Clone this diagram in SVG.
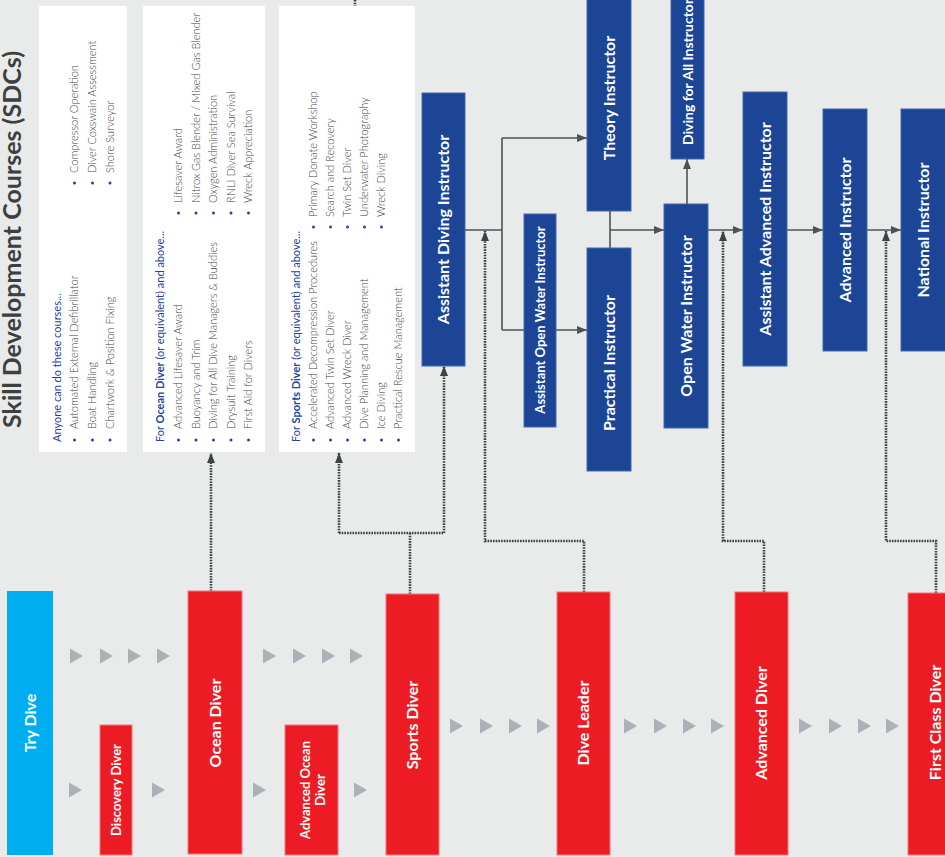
<svg xmlns="http://www.w3.org/2000/svg" width="945" height="857" viewBox="0 0 945 857">
<style>
.bg{fill:#e9ebea}
.panel{fill:#ffffff}
.blue{fill:#1d4596;stroke:#4468b0;stroke-width:1}
.red{fill:#ed1c24;stroke:#f2777b;stroke-width:1}
.cyan{fill:#00aeef}
.lbl{font-family:Lato,"Open Sans",sans-serif;font-weight:700;fill:#ffffff;text-anchor:middle}
.f16{font-size:16px}
.f13{font-size:13px}
.title{font-family:Lato,"Open Sans",sans-serif;font-weight:700;font-size:25px;fill:#3d3f40}
.item{font-family:Lato,"Open Sans",sans-serif;font-weight:300;font-size:11px;fill:#3f4143}
.hdr{font-family:Lato,"Open Sans",sans-serif;font-weight:400;font-size:11px;fill:#23449a}
.hb{font-weight:700}
.bul{fill:#23449a}
.conn{fill:none;stroke:#4b5358;stroke-width:1.6}
.dot{fill:none;stroke:#3c4247;stroke-width:2.6;stroke-dasharray:1.6 1.1}
.chev{fill:#aab1b7}
</style>
<defs>
<marker id="ah" markerWidth="10" markerHeight="8" refX="10" refY="4" orient="auto" markerUnits="userSpaceOnUse"><path d="M0,0 L10,4 L0,8 Z" fill="#4b5358"/></marker>
<marker id="ahd" markerWidth="10" markerHeight="8" refX="10" refY="4" orient="auto" markerUnits="userSpaceOnUse"><path d="M0,0 L10,4 L0,8 Z" fill="#3c4247"/></marker>
<path id="tri" d="M0,-7.5 L13,0 L0,7.5 Z"/>
</defs>
<rect class="bg" x="0" y="0" width="945" height="857"/>

<text class="title" transform="rotate(-90)" x="-428" y="20.5">Skill Development Courses (SDCs)</text>

<g id="connectors">
<path class="conn" d="M465,230 H502"/>
<path class="conn" d="M502,138 V330"/>
<path class="conn" d="M502,138 H587" marker-end="url(#ah)"/>
<path class="conn" d="M502,330 H587" marker-end="url(#ah)"/>
<path class="conn" d="M610,211 V248"/>
<path class="conn" d="M610,230 H664" marker-end="url(#ah)"/>
<path class="conn" d="M687,204 V159" marker-end="url(#ah)"/>
<path class="conn" d="M708,230 H743" marker-end="url(#ah)"/>
<path class="conn" d="M787,230 H823" marker-end="url(#ah)"/>
<path class="conn" d="M867,230 H901" marker-end="url(#ah)"/>
<path class="dot" d="M211,591 V453" marker-end="url(#ahd)"/>
<path class="dot" d="M410,594 V533"/>
<path class="dot" d="M339,533 H444"/>
<path class="dot" d="M339,533 V453" marker-end="url(#ahd)"/>
<path class="dot" d="M444,533 V366" marker-end="url(#ahd)"/>
<path class="dot" d="M355,0 V6"/>
<path class="dot" d="M584,592 V541 H485 V231" marker-end="url(#ahd)"/>
<path class="dot" d="M764,592 V541 H723 V231" marker-end="url(#ahd)"/>
<path class="dot" d="M936,593 V541 H886 V231" marker-end="url(#ahd)"/>
</g>

<g id="progress-arrows" class="chev">
<use href="#tri" x="70" y="656"/><use href="#tri" x="100" y="656"/><use href="#tri" x="128" y="656"/><use href="#tri" x="157" y="656"/>
<use href="#tri" x="263" y="656"/><use href="#tri" x="293" y="656"/><use href="#tri" x="322" y="656"/><use href="#tri" x="350" y="656"/>
<use href="#tri" x="69" y="790"/><use href="#tri" x="152" y="790"/><use href="#tri" x="253" y="790"/><use href="#tri" x="354" y="790"/>
<use href="#tri" x="450" y="726"/><use href="#tri" x="480" y="726"/><use href="#tri" x="509" y="726"/><use href="#tri" x="537" y="726"/>
<use href="#tri" x="624" y="726"/><use href="#tri" x="654" y="726"/><use href="#tri" x="683" y="726"/><use href="#tri" x="711" y="726"/>
<use href="#tri" x="799" y="726"/><use href="#tri" x="829" y="726"/><use href="#tri" x="858" y="726"/><use href="#tri" x="886" y="726"/>
</g>

<g id="sdc-anyone">
<rect class="panel" x="39" y="6" width="88" height="446"/>
<text class="hdr" transform="rotate(-90)" x="-442" y="61">Anyone can do these courses...</text>
<circle class="bul" cx="74.5" cy="440" r="1.5"/><circle class="bul" cx="92.5" cy="440" r="1.5"/><circle class="bul" cx="110" cy="440" r="1.5"/>
<text class="item" transform="rotate(-90)" x="-429" y="78">Automated External Defibrillator</text>
<text class="item" transform="rotate(-90)" x="-429" y="96">Boat Handling</text>
<text class="item" transform="rotate(-90)" x="-429" y="113.5">Chartwork &amp; Position Fixing</text>
<circle class="bul" cx="74.5" cy="183" r="1.5"/><circle class="bul" cx="92.5" cy="183" r="1.5"/><circle class="bul" cx="110" cy="183" r="1.5"/>
<text class="item" transform="rotate(-90)" x="-173" y="78">Compressor Operation</text>
<text class="item" transform="rotate(-90)" x="-173" y="96">Diver Coxswain Assessment</text>
<text class="item" transform="rotate(-90)" x="-173" y="113.5">Shore Surveyor</text>
</g>

<g id="sdc-ocean">
<rect class="panel" x="143" y="6" width="122" height="446"/>
<text class="hdr" transform="rotate(-90)" x="-442" y="164">For <tspan class="hb">Ocean Diver</tspan> (or equivalent) and above...</text>
<circle class="bul" cx="178.5" cy="440" r="1.5"/><circle class="bul" cx="196" cy="440" r="1.5"/><circle class="bul" cx="213.5" cy="440" r="1.5"/><circle class="bul" cx="231" cy="440" r="1.5"/><circle class="bul" cx="248.5" cy="440" r="1.5"/>
<text class="item" transform="rotate(-90)" x="-429" y="182">Advanced Lifesaver Award</text>
<text class="item" transform="rotate(-90)" x="-429" y="199.5">Buoyancy and Trim</text>
<text class="item" transform="rotate(-90)" x="-429" y="217">Diving for All Dive Managers &amp; Buddies</text>
<text class="item" transform="rotate(-90)" x="-429" y="234.5">Drysuit Training</text>
<text class="item" transform="rotate(-90)" x="-429" y="252">First Aid for Divers</text>
<circle class="bul" cx="178.5" cy="213" r="1.5"/><circle class="bul" cx="196" cy="213" r="1.5"/><circle class="bul" cx="213.5" cy="213" r="1.5"/><circle class="bul" cx="231" cy="213" r="1.5"/><circle class="bul" cx="248.5" cy="213" r="1.5"/>
<text class="item" transform="rotate(-90)" x="-203" y="182">Lifesaver Award</text>
<text class="item" transform="rotate(-90)" x="-203" y="199.5">Nitrox Gas Blender / Mixed Gas Blender</text>
<text class="item" transform="rotate(-90)" x="-203" y="217">Oxygen Administration</text>
<text class="item" transform="rotate(-90)" x="-203" y="234.5">RNLI Diver Sea Survival</text>
<text class="item" transform="rotate(-90)" x="-203" y="252">Wreck Appreciation</text>
</g>

<g id="sdc-sports">
<rect class="panel" x="279" y="6" width="136" height="446"/>
<text class="hdr" transform="rotate(-90)" x="-442" y="300">For <tspan class="hb">Sports Diver</tspan> (or equivalent) and above...</text>
<circle class="bul" cx="313.5" cy="440" r="1.5"/><circle class="bul" cx="330.5" cy="440" r="1.5"/><circle class="bul" cx="347.5" cy="440" r="1.5"/><circle class="bul" cx="364.5" cy="440" r="1.5"/><circle class="bul" cx="381.5" cy="440" r="1.5"/><circle class="bul" cx="398.5" cy="440" r="1.5"/>
<text class="item" transform="rotate(-90)" x="-429" y="317">Accelerated Decompression Procedures</text>
<text class="item" transform="rotate(-90)" x="-429" y="334">Advanced Twin Set Diver</text>
<text class="item" transform="rotate(-90)" x="-429" y="351">Advanced Wreck Diver</text>
<text class="item" transform="rotate(-90)" x="-429" y="368">Dive Planning and Management</text>
<text class="item" transform="rotate(-90)" x="-429" y="385">Ice Diving</text>
<text class="item" transform="rotate(-90)" x="-429" y="402">Practical Rescue Management</text>
<circle class="bul" cx="313.5" cy="227" r="1.5"/><circle class="bul" cx="330.5" cy="227" r="1.5"/><circle class="bul" cx="347.5" cy="227" r="1.5"/><circle class="bul" cx="364.5" cy="227" r="1.5"/><circle class="bul" cx="381.5" cy="227" r="1.5"/>
<text class="item" transform="rotate(-90)" x="-217" y="317">Primary Donate Workshop</text>
<text class="item" transform="rotate(-90)" x="-217" y="334">Search and Recovery</text>
<text class="item" transform="rotate(-90)" x="-217" y="351">Twin Set Diver</text>
<text class="item" transform="rotate(-90)" x="-217" y="368">Underwater Photography</text>
<text class="item" transform="rotate(-90)" x="-217" y="385">Wreck Diving</text>
</g>

<g id="assistant-diving-instructor"><rect class="blue" x="422" y="93" width="43" height="273"/><text class="lbl f16" transform="rotate(-90)" x="-229.5" y="449">Assistant Diving Instructor</text></g>
<g id="assistant-open-water-instructor"><rect class="blue" x="524" y="214" width="32" height="213"/><text class="lbl f13" transform="rotate(-90)" x="-320" y="544.5">Assistant Open Water Instructor</text></g>
<g id="theory-instructor"><rect class="blue" x="587" y="-2" width="44" height="213"/><text class="lbl f16" transform="rotate(-90)" x="-98" y="615">Theory Instructor</text></g>
<g id="practical-instructor"><rect class="blue" x="587" y="248" width="44" height="223"/><text class="lbl f16" transform="rotate(-90)" x="-363" y="615">Practical Instructor</text></g>
<g id="open-water-instructor"><rect class="blue" x="664" y="204" width="44" height="224"/><text class="lbl f16" transform="rotate(-90)" x="-316" y="692">Open Water Instructor</text></g>
<g id="diving-for-all-instructor"><rect class="blue" x="671" y="-2" width="33" height="161"/><text class="lbl" transform="rotate(-90)" x="-145" y="692.5" style="text-anchor:start;font-size:14px">Diving for All Instructor</text></g>
<g id="assistant-advanced-instructor"><rect class="blue" x="743" y="92" width="44" height="274"/><text class="lbl f16" transform="rotate(-90)" x="-229" y="771">Assistant Advanced Instructor</text></g>
<g id="advanced-instructor"><rect class="blue" x="823" y="109" width="44" height="242"/><text class="lbl f16" transform="rotate(-90)" x="-230" y="851">Advanced Instructor</text></g>
<g id="national-instructor"><rect class="blue" x="901" y="109" width="50" height="242"/><text class="lbl f16" transform="rotate(-90)" x="-230" y="929">National Instructor</text></g>

<g id="try-dive"><rect class="cyan" x="7" y="591" width="46" height="264"/><text class="lbl f16" transform="rotate(-90)" x="-723" y="35.5">Try Dive</text></g>
<g id="discovery-diver"><rect class="red" x="100" y="725" width="32" height="130"/><text class="lbl f13" transform="rotate(-90)" x="-790" y="120.5">Discovery Diver</text></g>
<g id="ocean-diver"><rect class="red" x="188" y="591" width="54" height="263"/><text class="lbl f16" transform="rotate(-90)" x="-723" y="220.5">Ocean Diver</text></g>
<g id="advanced-ocean-diver"><rect class="red" x="285" y="725" width="53" height="130"/><text class="lbl f13" transform="rotate(-90)" x="-790" y="309.5">Advanced Ocean<tspan x="-790" dy="15">Diver</tspan></text></g>
<g id="sports-diver"><rect class="red" x="386" y="594" width="53" height="261"/><text class="lbl f16" transform="rotate(-90)" x="-725" y="418">Sports Diver</text></g>
<g id="dive-leader"><rect class="red" x="557" y="592" width="53" height="263"/><text class="lbl f16" transform="rotate(-90)" x="-723" y="589">Dive Leader</text></g>
<g id="advanced-diver"><rect class="red" x="735" y="592" width="53" height="263"/><text class="lbl f16" transform="rotate(-90)" x="-723" y="767">Advanced Diver</text></g>
<g id="first-class-diver"><rect class="red" x="908" y="593" width="54" height="262"/><text class="lbl f16" transform="rotate(-90)" x="-722.5" y="941">First Class Diver</text></g>
</svg>
